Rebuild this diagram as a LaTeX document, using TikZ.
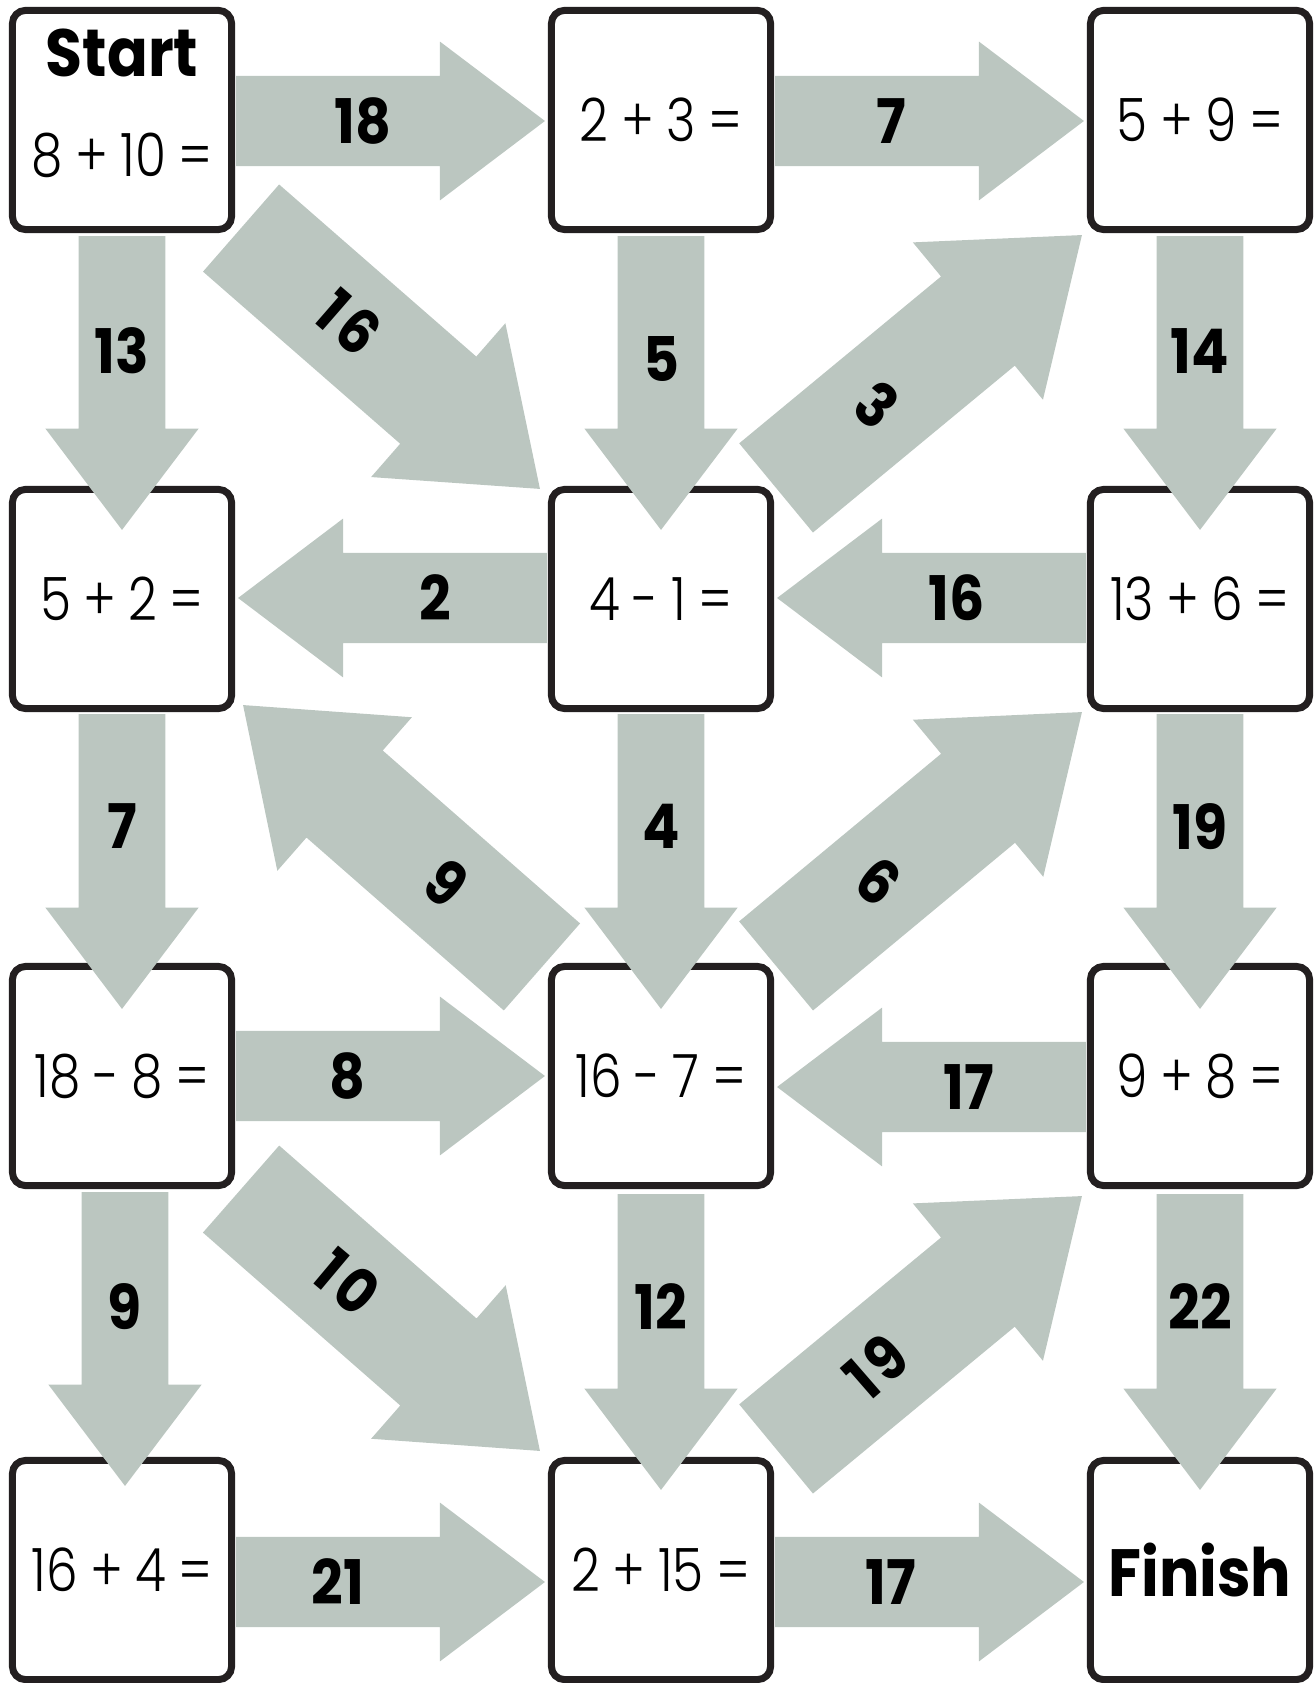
\documentclass[tikz,border=0pt]{standalone}
\usepackage{fontspec}
\setmainfont{Poppins}[FakeStretch=0.9]
\newfontfamily\eqfont{Poppins Light}[FakeStretch=0.84, WordSpace=0.9]
\usetikzlibrary{calc}
\definecolor{arrowgrey}{HTML}{BBC6C0}
\definecolor{boxline}{HTML}{231F20}
\tikzset{
  mazebox/.style={rectangle, rounded corners=0.13cm, draw=boxline, line width=0.07cm,
                  fill=white, minimum size=2.19cm, inner sep=0pt,
                  font=\eqfont\fontsize{17}{20}\selectfont},
  eqtxt/.style={inner sep=0pt, font=\eqfont\fontsize{17}{20}\selectfont},
  headtxt/.style={inner sep=0pt, font=\bfseries\fontsize{19}{22}\selectfont},
  numlbl/.style={inner sep=0pt, font=\bfseries\fontsize{17.5}{20}\selectfont},
  arrowfill/.style={fill=arrowgrey},
}
% #1 name, #2 scale, #3 tail, #4 tip, #5 label pos, #6 label rotation, #7 label
\newcommand{\mazearrow}[7]{%
  \coordinate (#1-t) at #3;
  \coordinate (#1-p) at #4;
  \coordinate (#1-n) at ($(#1-p)!#2*1.05cm!(#1-t)$);
  \fill[arrowfill] ($(#1-t)!#2*0.45cm!90:(#1-p)$)
    -- ($(#1-n)!#2*0.45cm!90:(#1-p)$) -- ($(#1-n)!#2*0.794cm!90:(#1-p)$)
    -- (#1-p)
    -- ($(#1-n)!#2*0.794cm!-90:(#1-p)$) -- ($(#1-n)!#2*0.45cm!-90:(#1-p)$)
    -- ($(#1-t)!#2*0.45cm!-90:(#1-p)$) -- cycle;
  \node[numlbl, rotate=#6] (#1) at ($(#1-t)!#5!(#1-p)$) {#7};
}

\begin{document}
\begin{tikzpicture}[x=0.01cm, y=-0.01cm]
  \useasboundingbox (0,0) rectangle (1314,1683);

  % --- boxes ---
  \node[mazebox] (b11) at (122,120)  {};
  \node[mazebox] (b12) at (661,120)  {\raisebox{-0.2cm}{2 + 3 =}};
  \node[mazebox] (b13) at (1200,120) {\raisebox{-0.2cm}{5 + 9 =}};
  \node[mazebox] (b21) at (122,599)  {5 + 2 =};
  \node[mazebox] (b22) at (661,599)  {4 - 1 =};
  \node[mazebox] (b23) at (1200,599) {13 + 6 =};
  \node[mazebox] (b31) at (122,1076) {\raisebox{-0.1cm}{18 - 8 =}};
  \node[mazebox] (b32) at (661,1076) {\raisebox{-0.1cm}{16 - 7 =}};
  \node[mazebox] (b33) at (1200,1076) {\raisebox{-0.1cm}{9 + 8 =}};
  \node[mazebox] (b41) at (122,1570) {\raisebox{-0.1cm}{16 + 4 =}};
  \node[mazebox] (b42) at (661,1570) {2 + 15 =};
  \node[mazebox, font=\bfseries\fontsize{19}{22}\selectfont] (b43) at (1200,1570) {Finish};
  \node[headtxt, anchor=base] (starttxt) at ($(b11.north)+(0,70)$) {Start};
  \node[eqtxt, anchor=base] (starteq) at ($(b11.north)+(0,170)$) {8 + 10 =};

  % --- horizontal arrows ---
  \mazearrow{a18}{1}{($(b11.east)+(1,1)$)}{($(b12.west)+(-3,1)$)}{0.41}{0}{18}
  \mazearrow{a7}{1}{($(b12.east)+(1,1)$)}{($(b13.west)+(-3,1)$)}{0.375}{0}{7}
  \mazearrow{a2}{1}{($(b22.west)+(-1,-1)$)}{($(b21.east)+(3,-1)$)}{0.36}{0}{2}
  \mazearrow{a16h}{1}{($(b23.west)+(-1,-1)$)}{($(b22.east)+(3,-1)$)}{0.42}{0}{16}
  \mazearrow{a8}{1}{($(b31.east)+(1,0)$)}{($(b32.west)+(-3,0)$)}{0.36}{0}{8}
  \mazearrow{a17h}{1}{($(b33.west)+(-1,11)$)}{($(b32.east)+(3,11)$)}{0.38}{0}{17}
  \mazearrow{a21}{1}{($(b41.east)+(1,12)$)}{($(b42.west)+(-3,12)$)}{0.33}{0}{21}
  \mazearrow{a17}{1}{($(b42.east)+(1,12)$)}{($(b43.west)+(-3,12)$)}{0.375}{0}{17}

  % --- vertical arrows ---
  \mazearrow{a13}{0.965}{($(b11.south)+(0,3)$)}{($(b21.north)+(0,44)$)}{0.39}{0}{13}
  \mazearrow{a5}{0.965}{($(b12.south)+(0,3)$)}{($(b22.north)+(0,44)$)}{0.42}{0}{5}
  \mazearrow{a14}{0.965}{($(b13.south)+(0,3)$)}{($(b23.north)+(0,44)$)}{0.39}{0}{14}
  \mazearrow{a7v}{0.965}{($(b21.south)+(0,2)$)}{($(b31.north)+(0,46)$)}{0.38}{0}{7}
  \mazearrow{a4}{0.965}{($(b22.south)+(0,2)$)}{($(b32.north)+(0,46)$)}{0.38}{0}{4}
  \mazearrow{a19v}{0.965}{($(b23.south)+(0,2)$)}{($(b33.north)+(0,46)$)}{0.38}{0}{19}
  \mazearrow{a9v}{0.965}{($(b31.south)+(3,3)$)}{($(b41.north)+(3,29)$)}{0.39}{0}{9}
  \mazearrow{a12}{0.965}{($(b32.south)+(0,5)$)}{($(b42.north)+(0,33)$)}{0.38}{0}{12}
  \mazearrow{a22}{0.965}{($(b33.south)+(0,5)$)}{($(b43.north)+(0,33)$)}{0.38}{0}{22}

  % --- diagonal arrows ---
  \mazearrow{a16d}{1.285}{($(b11.south east)+(6,-5)$)}{($(b22.north west)+(-8,3)$)}{0.36}{-41}{1\kern1.5pt6}
  \mazearrow{a3}{1.285}{($(b22.north east)+(2,2)$)}{($(b13.south west)+(-5,2)$)}{0.33}{-40}{3}
  \mazearrow{a9d}{1.285}{($(b32.north west)+(-6,4)$)}{($(b21.south east)+(8,-7)$)}{0.32}{-40}{9}
  \mazearrow{a6}{1.285}{($(b32.north east)+(2,3)$)}{($(b23.south west)+(-5,0)$)}{0.335}{-40}{6}
  \mazearrow{a10}{1.285}{($(b31.south east)+(6,0)$)}{($(b42.north west)+(-8,-6)$)}{0.355}{-40}{1\kern1.5pt0}
  \mazearrow{a19d}{1.285}{($(b42.north east)+(2,-8)$)}{($(b33.south west)+(-5,7)$)}{0.326}{41}{1\kern1.5pt9}
\end{tikzpicture}
\end{document}
